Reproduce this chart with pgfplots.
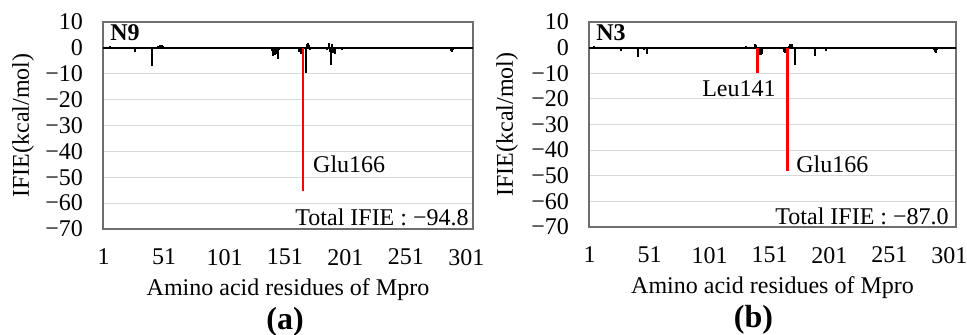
\documentclass[border=0pt]{standalone}
\usepackage{fontspec}
\setmainfont{Liberation Serif}
\usepackage{pgfplots}
\pgfplotsset{compat=1.18}
\definecolor{gridc}{RGB}{217,217,217}
\definecolor{boxc}{RGB}{110,110,110}
\definecolor{ifred}{RGB}{255,0,0}
\pgfplotsset{ifie/.style={
  scale only axis, clip=false, xmin=0.5, xmax=306.5, ymin=-70, ymax=10,
  xtick={1,51,101,151,201,251,301}, xticklabels={1,51,101,151,201,251,301},
  ytick={-70,-60,-50,-40,-30,-20,-10,0,10},
  yticklabels={−70,−60,−50,−40,−30,−20,−10,0,10},
  major tick length=0pt, ymajorgrids, grid style={gridc, line width=0.6pt},
  axis line style={boxc, line width=0.8pt},
  tick label style={font=\fontsize{12}{14}\selectfont},
  label style={font=\fontsize{12}{14}\selectfont},
  yticklabel style={xshift=-6.5pt},
  xticklabel style={yshift=-6.5pt},
  xlabel={Amino acid residues of Mpro},
  ylabel={IFIE(kcal/mol)},
  x label style={at={(axis description cs:0.5,0)}, anchor=center, yshift=-30.5pt},
}}
\pgfplotstableread{
x y
6 0.8
14 -0.6
20 -0.4
27 -1.5
33 -0.5
41 -7.0
44 -0.6
46 0.8
48 1.0
49 1.2
50 0.8
52 -0.4
60 -0.3
90 -0.3
118 -0.3
132 0.5
140 -1.2
141 -3.2
142 -2.0
143 -2.8
144 -2.5
145 -4.2
146 -0.8
163 -1.5
164 -2.2
165 -2.0
168 -9.8
169 1.5
170 1.8
171 1.2
172 -0.8
175 -0.6
186 -0.8
187 1.8
188 -1.5
189 -6.7
190 1.6
191 -2.0
192 -2.5
198 -1.0
218 -0.5
240 -0.3
270 -0.3
288 -1.2
289 -1.5
290 -0.8
294 -0.5
299 0.5
}\dataA
\pgfplotstableread{
x y
5 0.5
20 -0.3
27 -1.5
41 -3.5
44 -0.4
46 -1.0
49 -2.4
60 -0.3
100 -0.3
118 -0.3
131 0.8
139 1.5
140 1.0
142 -2.5
143 -2.8
144 -2.8
145 -2.5
146 -0.5
163 -1.8
164 -2.2
165 -1.5
167 0.8
168 1.5
169 1.2
170 1.5
172 -6.6
173 -0.5
186 -0.5
189 -3.2
190 -0.6
198 -1.5
199 -0.4
240 -0.7
260 -0.3
288 -1.0
289 -1.8
290 -2.0
291 -1.0
299 0.3
}\dataB
\begin{document}
\begin{tikzpicture}
\path[use as bounding box] (-51.5pt,-53pt) rectangle (432pt,114.5pt);
\begin{axis}[ifie, at={(0pt,0pt)}, anchor=south west, width=185pt, height=103.5pt,
  y label style={at={(axis description cs:-0.216,0.5)}, anchor=center}]
  \addplot[black, line width=1.1pt] coordinates {(0.5,0) (306.5,0)};
  \addplot[ycomb, black, line width=1pt, mark=none] table[x=x,y=y] {\dataA};
  \addplot[ycomb, ifred, line width=1.1pt, mark=none] coordinates {(166,-55.2)};
  \node[anchor=west, inner sep=0pt, font=\fontsize{12}{14}\selectfont] at (axis cs:174,-45) {Glu166};
  \node[anchor=west, inner sep=0pt, xshift=3.5pt, yshift=-5.5pt, font=\bfseries\fontsize{12}{14}\selectfont] at (rel axis cs:0,1) {N9};
  \node[anchor=east, inner sep=0pt, xshift=-2pt, yshift=6pt, font=\fontsize{12}{14}\selectfont] at (rel axis cs:1,0) {Total IFIE : −94.8};
  \node[inner sep=0pt, yshift=-46.5pt, xshift=-1.5pt, font=\bfseries\fontsize{16}{18}\selectfont] at (rel axis cs:0.5,0) {(a)};
\end{axis}
\begin{axis}[ifie, at={(243pt,1pt)}, anchor=south west, width=183.5pt, height=102.5pt,
  y label style={at={(axis description cs:-0.2234,0.5)}, anchor=center}]
  \addplot[black, line width=1.1pt] coordinates {(0.5,0) (306.5,0)};
  \addplot[ycomb, black, line width=1pt, mark=none] table[x=x,y=y] {\dataB};
  \addplot[ycomb, ifred, line width=1.1pt, mark=none] coordinates {(141,-10.0) (166,-48.0)};
  \node[inner sep=0pt, font=\fontsize{12}{14}\selectfont] at (axis cs:125.5,-16.2) {Leu141};
  \node[anchor=west, inner sep=0pt, font=\fontsize{12}{14}\selectfont] at (axis cs:173,-45.5) {Glu166};
  \node[anchor=west, inner sep=0pt, xshift=3.5pt, yshift=-5.5pt, font=\bfseries\fontsize{12}{14}\selectfont] at (rel axis cs:0,1) {N3};
  \node[anchor=east, inner sep=0pt, xshift=-3.5pt, yshift=5.5pt, font=\fontsize{12}{14}\selectfont] at (rel axis cs:1,0) {Total IFIE : −87.0};
  \node[inner sep=0pt, yshift=-46.5pt, xshift=-9.5pt, font=\bfseries\fontsize{16}{18}\selectfont] at (rel axis cs:0.5,0) {(b)};
\end{axis}
\end{tikzpicture}
\end{document}
